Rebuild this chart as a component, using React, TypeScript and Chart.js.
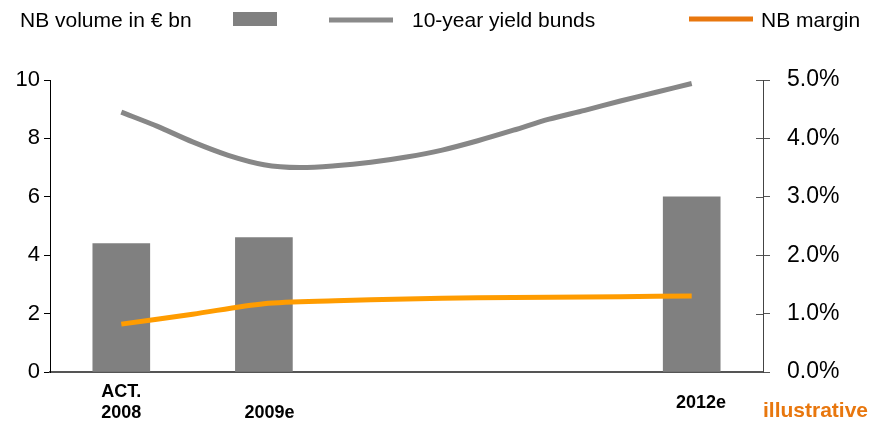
import { useEffect, useRef } from "react";
import { Chart, registerables } from "chart.js";

Chart.register(...registerables);

// New business volume (€ bn), left axis
const barYears = [2008, 2009, 2012];
const nbVolume = [4.4, 4.6, 6.0];

// 10-year Bund yield (%), right axis
const yieldYears = [
  2008, 2008.25, 2008.5, 2008.75, 2009, 2009.25, 2009.5, 2009.75, 2010,
  2010.25, 2010.5, 2010.75, 2011, 2011.25, 2011.5, 2011.75, 2012,
];
const yieldBunds = [
  4.45, 4.21, 3.94, 3.71, 3.55, 3.5, 3.53, 3.59, 3.68, 3.8, 3.96, 4.14, 4.33,
  4.48, 4.64, 4.79, 4.94,
];

// New business margin (%), right axis
const marginYears = [2008, 2008.5, 2009, 2009.5, 2010, 2010.5, 2011, 2011.5, 2012];
const nbMargin = [0.82, 0.99, 1.17, 1.22, 1.25, 1.27, 1.28, 1.29, 1.3];

// Category labels under the bars
const xTickLabels: (string | string[])[] = [["ACT.", "2008"], ["", "2009e"], "2012e"];

const FONT = "'Liberation Sans', Arial, Helvetica, sans-serif";
const BAR_GREY = "#808080";
const LINE_GREY = "#878787";
const LINE_ORANGE = "#FF9C00";
const DARK_ORANGE = "#E8770E";

// small horizontal nudges (in years) for the category labels
const labelNudge = [0, 0.04, 0.065];

const legendPlugin = {
  id: "topLegend",
  afterDraw(chart: Chart) {
    const ctx = chart.ctx;
    const y1 = chart.scales.y1;
    const area = chart.chartArea;
    ctx.save();

    // inner halves of the right-axis tick marks
    ctx.strokeStyle = "#555";
    ctx.lineWidth = 1;
    y1.ticks.forEach((t) => {
      const py = Math.round(y1.getPixelForValue(t.value)) + 0.5;
      ctx.beginPath();
      ctx.moveTo(area.right - 7, py);
      ctx.lineTo(area.right, py);
      ctx.stroke();
    });

    ctx.font = `21px ${FONT}`;
    ctx.fillStyle = "#000";
    ctx.textBaseline = "alphabetic";
    ctx.textAlign = "left";
    ctx.fillText("NB volume in € bn", 20, 27);
    ctx.fillStyle = BAR_GREY;
    ctx.fillRect(233, 12, 44, 14);

    ctx.lineCap = "butt";
    ctx.lineWidth = 5;
    ctx.strokeStyle = "#8a8a8a";
    ctx.beginPath();
    ctx.moveTo(329, 20);
    ctx.lineTo(393, 20);
    ctx.stroke();
    ctx.fillStyle = "#000";
    ctx.fillText("10-year yield bunds", 412, 27);

    ctx.strokeStyle = DARK_ORANGE;
    ctx.beginPath();
    ctx.moveTo(689, 19);
    ctx.lineTo(753, 19);
    ctx.stroke();
    ctx.fillStyle = "#000";
    ctx.fillText("NB margin", 761, 27);

    ctx.font = `bold 21px ${FONT}`;
    ctx.fillStyle = DARK_ORANGE;
    ctx.fillText("illustrative", 763, 417);
    ctx.restore();
  },
};

export default function App() {
  const ref = useRef<HTMLCanvasElement | null>(null);

  useEffect(() => {
    if (!ref.current) return;
    const chart = new Chart(ref.current, {
      type: "bar",
      data: {
        datasets: [
          {
            type: "line",
            label: "10-year yield bunds",
            data: yieldYears.map((x, i) => ({ x, y: yieldBunds[i] })),
            yAxisID: "y1",
            borderColor: LINE_GREY,
            borderWidth: 5,
            borderCapStyle: "butt",
            pointRadius: 0,
            tension: 0.3,
            order: 1,
          },
          {
            type: "line",
            label: "NB margin",
            data: marginYears.map((x, i) => ({ x, y: nbMargin[i] })),
            yAxisID: "y1",
            borderColor: LINE_ORANGE,
            borderWidth: 5,
            borderCapStyle: "butt",
            pointRadius: 0,
            tension: 0.3,
            order: 2,
          },
          {
            type: "bar",
            label: "NB volume in € bn",
            data: barYears.map((x, i) => ({ x, y: nbVolume[i] })),
            yAxisID: "y",
            backgroundColor: BAR_GREY,
            barThickness: 57,
            order: 3,
          },
        ],
      },
      options: {
        responsive: false,
        animation: false,
        devicePixelRatio: 1,
        layout: { padding: { top: 80, left: 0, right: 0, bottom: 0 } },
        plugins: { legend: { display: false }, tooltip: { enabled: false } },
        scales: {
          x: {
            type: "linear",
            min: 2007.5,
            max: 2012.5,
            offset: false,
            z: 1,
            afterBuildTicks: (s: any) => {
              s.ticks = barYears.map((v, i) => ({ value: v + labelNudge[i] }));
            },
            afterFit: (s: any) => {
              s.height = 53;
            },
            grid: { display: false, drawTicks: false, offset: false },
            border: { display: true, color: "#555", width: 2 },
            ticks: {
              autoSkip: false,
              maxRotation: 0,
              crossAlign: "center",
              padding: 20.5,
              color: "#000",
              font: { family: FONT, size: 18, weight: "bold", lineHeight: "20.5px" },
              callback: (_v: any, i: number) => xTickLabels[i],
            },
          },
          y: {
            position: "left",
            min: 0,
            max: 10,
            afterFit: (s: any) => {
              s.width = 50;
            },
            grid: {
              drawOnChartArea: false,
              drawTicks: true,
              tickLength: 6,
              color: "#000",
            },
            border: { display: true, color: "#000", width: 1 },
            ticks: {
              stepSize: 2,
              padding: 4,
              color: "#000",
              font: { family: FONT, size: 22 },
            },
          },
          y1: {
            position: "right",
            min: 0,
            max: 5,
            afterFit: (s: any) => {
              s.width = 120;
            },
            grid: {
              drawOnChartArea: false,
              drawTicks: true,
              tickLength: 7,
              color: "#555",
            },
            border: { display: true, color: "#444", width: 1 },
            ticks: {
              stepSize: 1,
              padding: 17,
              color: "#000",
              font: { family: FONT, size: 23 },
              callback: (v: any) => Number(v).toFixed(1) + "%",
            },
          },
        },
      },
      plugins: [legendPlugin],
    } as any);
    return () => chart.destroy();
  }, []);

  return (
    <div style={{ position: "fixed", left: 0, top: 0, width: 883, height: 425, background: "#fff" }}>
      <canvas ref={ref} width={883} height={425} style={{ display: "block" }} />
    </div>
  );
}
